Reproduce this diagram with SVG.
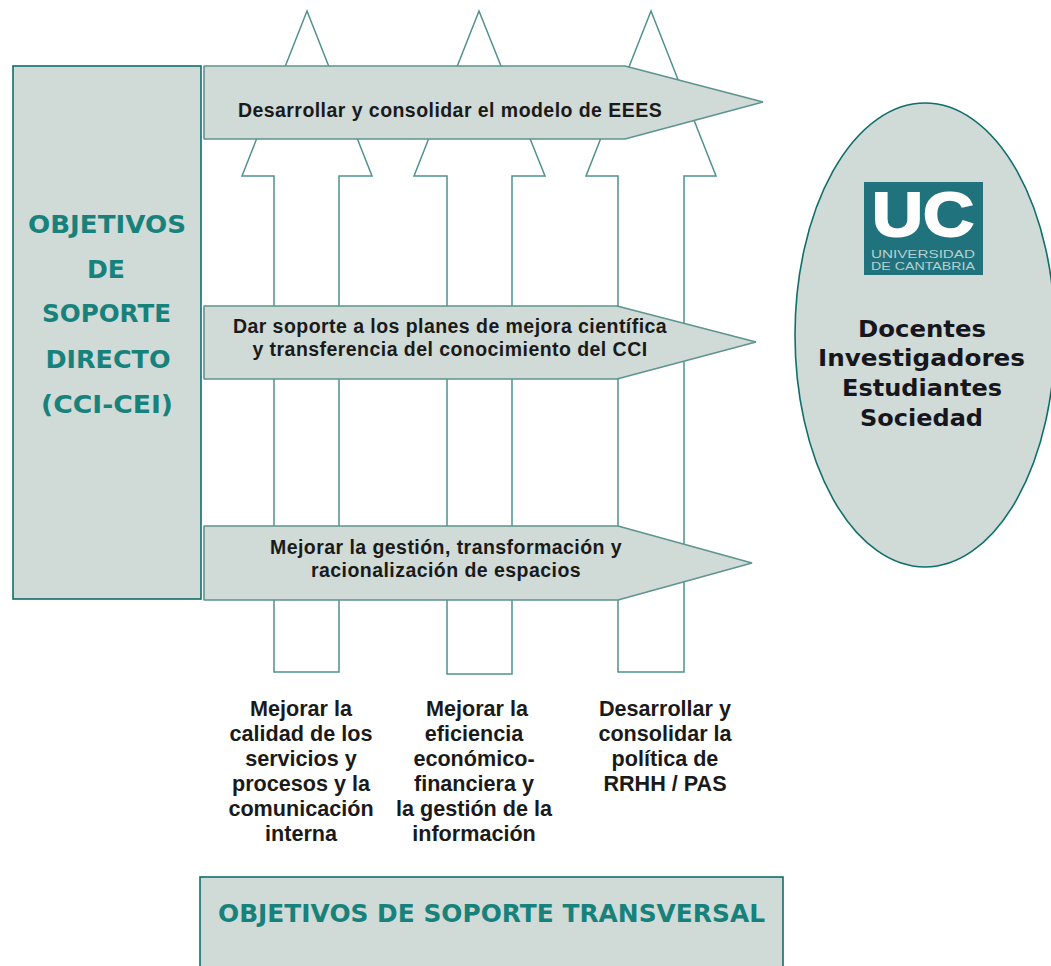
<svg xmlns="http://www.w3.org/2000/svg" width="1051" height="966" viewBox="0 0 1051 966">
<style>
.box{fill:#d0dad6;stroke:#0f6f6c;stroke-width:1.6}
.band{fill:#d0dad6;stroke:#5d9490;stroke-width:1.6;stroke-linejoin:bevel}
.up{fill:#fff;stroke:#4f918d;stroke-width:1.5}
.head{font-family:"DejaVu Sans",sans-serif;font-weight:700;fill:#17827c;text-anchor:middle;font-size:24px}
.lbl{font-family:"Liberation Sans",Arial,sans-serif;font-weight:700;fill:#1a1a1a;text-anchor:middle;font-size:21.6px}
.bt{font-family:"Liberation Sans",Arial,sans-serif;font-weight:700;fill:#1a1a1a;text-anchor:middle;font-size:19.5px;letter-spacing:.45px}
.aud{font-family:"DejaVu Sans",sans-serif;font-weight:700;fill:#16161c;text-anchor:middle;font-size:23px}
.uni{font-family:"Liberation Sans",sans-serif;font-size:10.5px;fill:#b5d0d2;text-anchor:middle}
</style>
<g id="connectors">
<polygon class="up" points="274,672 274,176 242,176 307,11 372,176 339,176 339,672"/>
<polygon class="up" points="447,674 447,176 414,176 479,11 545,176 512,176 512,674"/>
<polygon class="up" points="618,672 618,176 586,176 651,11 716,176 684,176 684,672"/>
</g>
<g id="node-soporte-directo">
<rect class="box" x="13" y="66" width="188" height="533"/>
<text class="head" x="107" y="233" textLength="158" lengthAdjust="spacingAndGlyphs">OBJETIVOS</text>
<text class="head" x="106" y="278" textLength="38" lengthAdjust="spacingAndGlyphs">DE</text>
<text class="head" x="106.5" y="322" textLength="129" lengthAdjust="spacingAndGlyphs">SOPORTE</text>
<text class="head" x="108" y="368" textLength="125" lengthAdjust="spacingAndGlyphs">DIRECTO</text>
<text class="head" x="107" y="413" textLength="132" lengthAdjust="spacingAndGlyphs">(CCI-CEI)</text>
</g>
<g id="node-eees">
<polygon class="band" points="204,66 625,66 763,102 625,139 204,139"/>
<text class="bt" x="450" y="116.5">Desarrollar y consolidar el modelo de EEES</text>
</g>
<g id="node-planes">
<polygon class="band" points="204,306 617,306 756,342 617,379 204,379"/>
<text class="bt" x="450" y="332.5">Dar soporte a los planes de mejora científica</text>
<text class="bt" x="450" y="355.5">y transferencia del conocimiento del CCI</text>
</g>
<g id="node-gestion">
<polygon class="band" points="204,526 618,526 752,563 618,600 204,600"/>
<text class="bt" x="446" y="553.5">Mejorar la gestión, transformación y</text>
<text class="bt" x="446" y="576.5">racionalización de espacios</text>
</g>
<g id="node-audiencia">
<ellipse class="box" cx="925" cy="335" rx="130" ry="232"/>
<rect x="864" y="182" width="119" height="93" fill="#20727c"/>
<text x="923" y="236" font-family="'Liberation Sans',sans-serif" font-weight="700" font-size="63" fill="#fff" stroke="#fff" stroke-width="2" text-anchor="middle" textLength="102" lengthAdjust="spacingAndGlyphs">UC</text>
<text class="uni" x="923" y="258" textLength="104" lengthAdjust="spacingAndGlyphs">UNIVERSIDAD</text>
<text class="uni" x="923" y="269.5" textLength="104" lengthAdjust="spacingAndGlyphs">DE CANTABRIA</text>
<text class="aud" x="922" y="337" textLength="128" lengthAdjust="spacingAndGlyphs">Docentes</text>
<text class="aud" x="921.5" y="366" textLength="207" lengthAdjust="spacingAndGlyphs">Investigadores</text>
<text class="aud" x="922" y="396" textLength="160" lengthAdjust="spacingAndGlyphs">Estudiantes</text>
<text class="aud" x="921.5" y="426" textLength="123" lengthAdjust="spacingAndGlyphs">Sociedad</text>
</g>
<g id="node-label-calidad">
<text class="lbl" x="301" y="716">Mejorar la</text>
<text class="lbl" x="301" y="741">calidad de los</text>
<text class="lbl" x="301" y="766">servicios y</text>
<text class="lbl" x="301" y="791">procesos y la</text>
<text class="lbl" x="301" y="816">comunicación</text>
<text class="lbl" x="301" y="841">interna</text>
</g>
<g id="node-label-eficiencia">
<text class="lbl" x="477" y="716">Mejorar la</text>
<text class="lbl" x="474" y="741">eficiencia</text>
<text class="lbl" x="474" y="766">económico-</text>
<text class="lbl" x="474" y="791">financiera y</text>
<text class="lbl" x="474" y="816">la gestión de la</text>
<text class="lbl" x="474" y="841">información</text>
</g>
<g id="node-label-rrhh">
<text class="lbl" x="665" y="716">Desarrollar y</text>
<text class="lbl" x="665" y="741">consolidar la</text>
<text class="lbl" x="665" y="766">política de</text>
<text class="lbl" x="665" y="791">RRHH / PAS</text>
</g>
<g id="node-soporte-transversal">
<rect class="box" x="200" y="877" width="583" height="100"/>
<text class="head" x="491.5" y="922" textLength="547" lengthAdjust="spacingAndGlyphs">OBJETIVOS DE SOPORTE TRANSVERSAL</text>
</g>
</svg>
